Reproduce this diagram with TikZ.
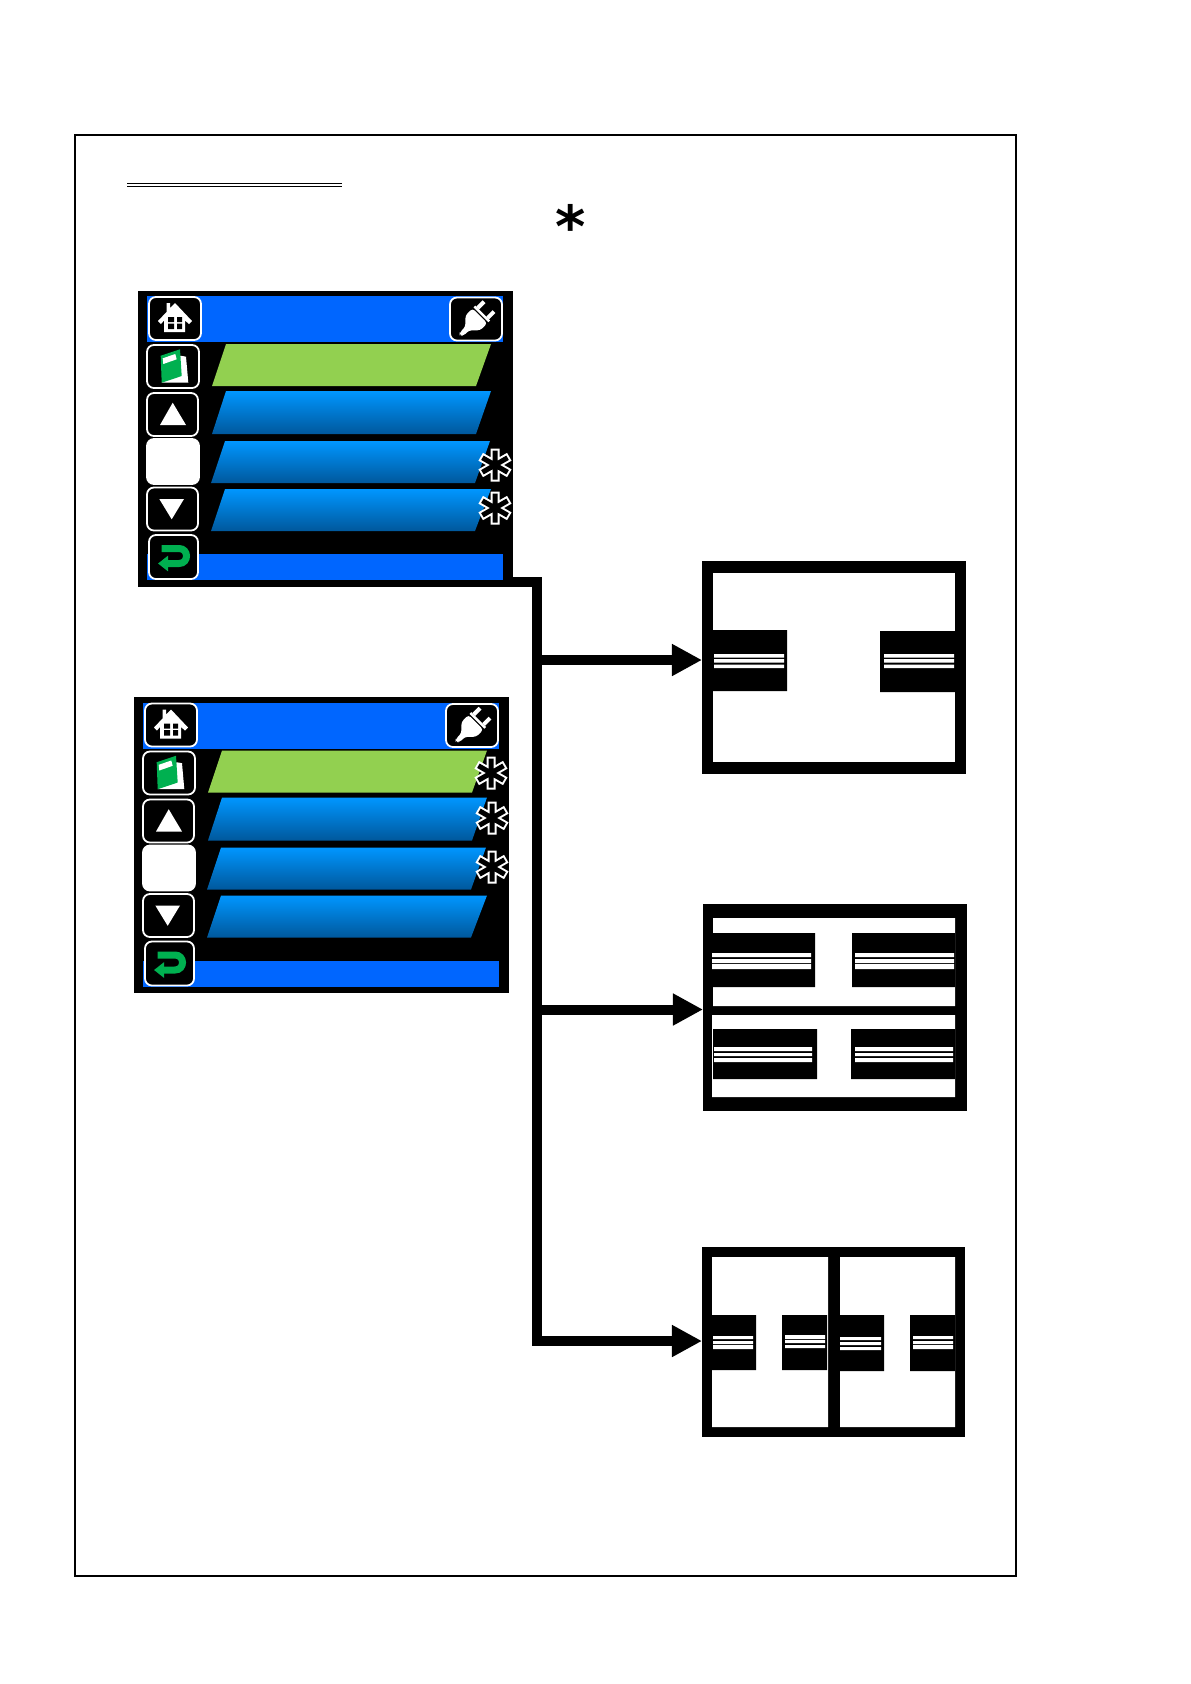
\documentclass[tikz,border=0pt]{standalone}
\usepackage{fontspec}
\usetikzlibrary{arrows.meta, calc}
\newfontfamily\notefont{DejaVu Sans}

\begin{document}
\begin{tikzpicture}[
        x=0.01cm, y=-0.01cm,
        sheet/.style={draw=black, line width=0.011cm},
        titlerule/.style={double, draw=black, line width=0.01cm, double distance=0.02cm},
        notemark/.style={font=\notefont\bfseries\fontsize{16.5}{16.5}\selectfont, inner sep=0pt},
        screen/.style={rectangle, fill=black, anchor=north west, inner sep=0pt, outer sep=0pt, minimum width=3.75cm, minimum height=2.96cm},
        layout/.style={rectangle, fill=black, anchor=north west, inner sep=0pt, outer sep=0pt},
        btn/.style={rectangle, draw=white, fill=black, line width=0.018cm, rounded corners=0.07cm, inner sep=0pt, minimum width=0.51cm, minimum height=0.43cm},
        blankbtn/.style={btn, fill=white},
        barfill/.style={fill=barblue},
        rowfill/.style={top color=rowtop, bottom color=rowbottom},
        busline/.style={draw=black, line width=0.1cm, -{Triangle[length=0.3cm, width=0.3cm]}},
        feed/.style={busline},
        menuitems/.pic={
            \fill[barfill] (9,5) rectangle (365,51);
            \fill[barfill] (9,263) rectangle (365,289);
            \fill[selgreen] (88,53) -- (353,53) -- (338,95) -- (74,95) -- cycle;
            \path[rowfill] (88,100) -- (353,100) -- (338,143) -- (74,143) -- cycle;
            \path[rowfill] (87,150) -- (352,150) -- (337,192) -- (73,192) -- cycle;
            \path[rowfill] (87,198) -- (353,198) -- (337,240) -- (73,240) -- cycle;
            \node[btn, minimum width=0.52cm] (home) at (37,27.5) {};
            \node[btn, minimum width=0.52cm] (plug) at (338,28) {};
            \node[btn, minimum width=0.52cm] (book) at (35,75.5) {};
            \node[btn] (up) at (34.5,123.5) {};
            \node[blankbtn, minimum width=0.52cm, minimum height=0.45cm] (blank) at (35,170.5) {};
            \node[btn] (down) at (34.5,218) {};
            \node[btn, minimum width=0.49cm, minimum height=0.44cm] (back) at (35.5,266) {};
            % house
            \fill[white] (37,12) -- (54,30) -- (51,33) -- (47,29.5) -- (47,41) -- (26,41) -- (26,29.5) -- (23,33) -- (20,30) -- (28.5,21) -- (28.5,12) -- (32,12) -- (32,17) -- cycle;
            \fill[black] (30,26) rectangle (36,31) (39,26) rectangle (44,31) (30,32.5) rectangle (36,38) (39,32.5) rectangle (44,38);
            % plug
            \begin{scope}[shift={(338,28)}, rotate=45]
                \fill[white, rounded corners=0.03cm] (5,-10) -- (5,11) -- (-5,11) -- (-13,3) -- (-21,3) -- (-23,0) -- (-21,-2) -- (-13,-2) -- (-5,-10) -- cycle;
                \fill[white] (6.5,-10) rectangle (9,11);
                \fill[white] (9,-8.5) rectangle (18,-4.5) (9,5.5) rectangle (18,9.5);
            \end{scope}
            % book
            \fill[white] (42.7,64.7) -- (48,65.7) -- (50.3,91.7) -- (23.7,91.7) -- cycle;
            \fill[iconGreen] (22.7,64.7) -- (42,58.3) -- (43.7,85) -- (23.7,91.7) -- cycle;
            \fill[white] (24.7,67.3) -- (37.3,63) -- (38.7,68.3) -- (25.3,73) -- cycle;
            % arrows
            \fill[white] (22,134) -- (34.7,111.7) -- (48,134) -- cycle;
            \fill[white] (21.3,208) -- (46,208) -- (33.7,228.3) -- cycle;
            \draw[iconGreen, line width=0.07cm, -{Triangle[length=0.1cm, width=0.15cm]}] (23.7,257.5) -- (41,257.5) .. controls (51,257.5) and (51,272.5) .. (41,272.5) -- (20,272.5);
        },
        medstar/.pic={
            \draw[white, line width=0.09cm] (0,-16.5) -- (0,16.5) (-14.3,-8.25) -- (14.3,8.25) (-14.3,8.25) -- (14.3,-8.25);
            \draw[black, line width=0.05cm] (0,-14.5) -- (0,14.5) (-12.6,-7.25) -- (12.6,7.25) (-12.6,7.25) -- (12.6,-7.25);
        }
    ]
        \definecolor{barblue}{RGB}{0,102,255}
        \definecolor{selgreen}{RGB}{146,208,80}
        \definecolor{rowtop}{RGB}{0,150,255}
        \definecolor{rowbottom}{RGB}{0,88,156}
        \definecolor{iconGreen}{RGB}{0,176,80}
        \useasboundingbox (0,0) rectangle (1190,1684);
        \draw[sheet] (75,135) rectangle (1016,1576);
        \draw[titlerule] (127,185) -- (342,185);
        \node[notemark] (note) at (571,225.5) {*};

        \node[screen] (menuA) at (137.5,290.5) {};
        \node[screen] (menuB) at (133.5,697) {};
        \pic (topmenu) at ([xshift=0.005cm, yshift=-0.005cm]menuA.north west) {menuitems};
        \pic (lowmenu) at ([xshift=0.005cm, yshift=-0.005cm]menuB.north west) {menuitems};
        \pic at (495,465) {medstar};
        \pic at (495,508) {medstar};
        \pic at (491,773) {medstar};
        \pic at (492,818) {medstar};
        \pic at (492,867) {medstar};

        \node[layout, minimum width=2.64cm, minimum height=2.13cm] (layoutA) at (702,561) {};
        \node[layout, minimum width=2.64cm, minimum height=2.07cm] (layoutB) at (703,904) {};
        \node[layout, minimum width=2.63cm, minimum height=1.90cm] (layoutC) at (702,1247) {};

        % single
        \fill[white] (713,573) rectangle (955,762);
        \fill[black] (713,630) rectangle (787,691) (880,631) rectangle (955,692);
        \fill[white] (714,654) rectangle (784,657.5) (714,659) rectangle (784,662.5) (714,664.5) rectangle (784,668);
        \fill[white] (884,654) rectangle (954,657.5) (884,659) rectangle (954,662.5) (884,664.5) rectangle (954,668);

        % stacked
        \fill[white] (713,918) rectangle (955,1006) (712,1015) rectangle (955,1097);
        \fill[black] (712,933) rectangle (815,987) (852,933) rectangle (955,987);
        \fill[black] (713,1029) rectangle (817,1079) (851,1029) rectangle (955,1079);
        \fill[white] (712,953) rectangle (811,957) (712,959) rectangle (811,963) (712,964) rectangle (811,969);
        \fill[white] (855,953) rectangle (954,957) (855,959) rectangle (954,963) (855,964) rectangle (954,969);
        \fill[white] (714,1047) rectangle (812,1051) (714,1053) rectangle (812,1056) (714,1058) rectangle (812,1062);
        \fill[white] (855,1047) rectangle (953,1051) (855,1053) rectangle (953,1056) (855,1058) rectangle (953,1062);

        % side by side
        \fill[white] (712,1257) rectangle (828,1427) (840,1257) rectangle (955,1427);
        \fill[black] (712,1315) rectangle (756,1370) (782,1315) rectangle (827,1370);
        \fill[black] (840,1315) rectangle (884,1371) (910,1315) rectangle (955,1371);
        \fill[white] (713,1336) rectangle (753,1339) (713,1341) rectangle (753,1344) (713,1345) rectangle (753,1349);
        \fill[white] (785,1335) rectangle (825,1339) (785,1340) rectangle (825,1343) (785,1345) rectangle (825,1348);
        \fill[white] (840,1337) rectangle (881,1340) (840,1342) rectangle (881,1345) (840,1347) rectangle (881,1350);
        \fill[white] (913,1336) rectangle (953,1339) (913,1341) rectangle (953,1344) (913,1345) rectangle (953,1349);

        \coordinate (feedA) at (537,660);
        \coordinate (feedB) at (537,1009.5);
        \coordinate (feedC) at (537,1341);
        \draw[busline] ([yshift=0.05cm]menuA.south east) -| (feedC) -- (feedC -| layoutC.west);
        \draw[feed] (feedA) -- (feedA -| layoutA.west);
        \draw[feed] (feedB) -- (feedB -| layoutB.west);
    \end{tikzpicture}
\end{document}
